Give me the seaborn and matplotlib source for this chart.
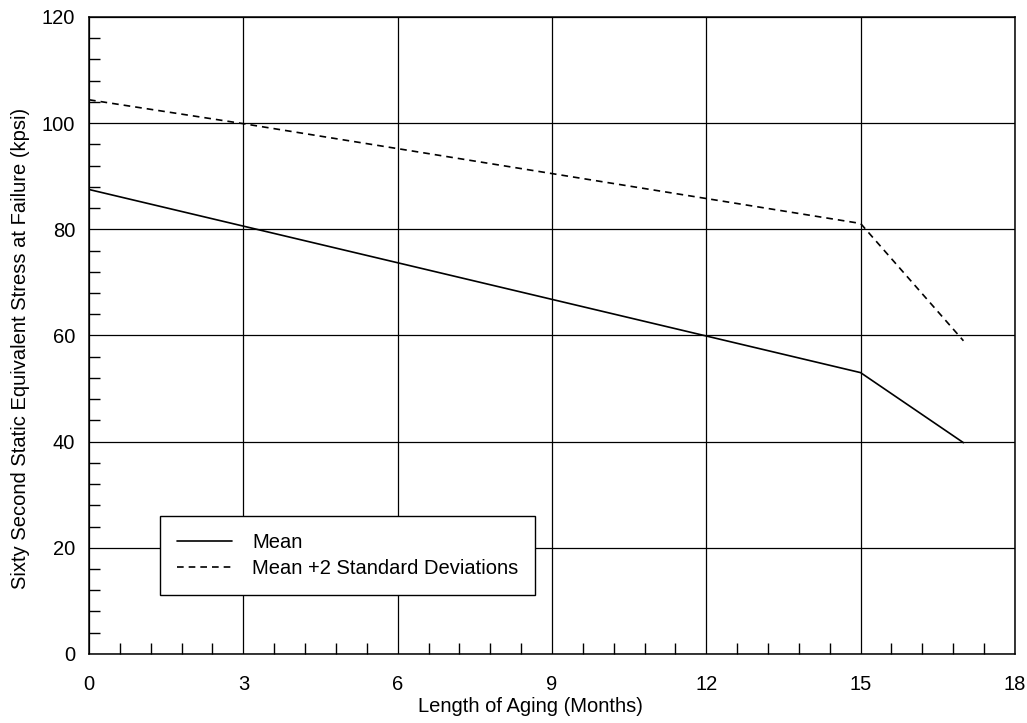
import numpy as np
import pandas as pd
import matplotlib
matplotlib.use('Agg')
import matplotlib.pyplot as plt
import seaborn as sns
from matplotlib.ticker import MultipleLocator

# Veri
months = [0, 3, 6, 9, 12, 15, 17]
mean_stress = [87.5, 80.6, 73.7, 66.8, 59.9, 53.0, 39.8]
upper_stress = [104.4, 99.9, 95.2, 90.5, 85.8, 81.1, 59.0]
series_names = ['Mean', 'Mean +2 Standard Deviations']

df = pd.DataFrame({
    'months': months * 2,
    'stress': mean_stress + upper_stress,
    'series': [series_names[0]] * len(months) + [series_names[1]] * len(months),
})

sns.set_style('white')
plt.rcParams['font.family'] = ['Liberation Sans', 'DejaVu Sans']
plt.rcParams['text.color'] = 'black'
plt.rcParams['axes.labelcolor'] = 'black'
plt.rcParams['xtick.color'] = 'black'
plt.rcParams['ytick.color'] = 'black'

fig = plt.figure(figsize=(10.27, 7.23), dpi=100)
ax = fig.add_axes([0.0867, 0.0955, 0.9015, 0.881])

sns.lineplot(data=df, x='months', y='stress', style='series', color='black',
             dashes={series_names[0]: '', series_names[1]: (4, 3)},
             linewidth=1.2, ax=ax)

ax.set_xlim(0, 18)
ax.set_ylim(0, 120)
ax.xaxis.set_major_locator(MultipleLocator(3))
ax.yaxis.set_major_locator(MultipleLocator(20))
ax.xaxis.set_minor_locator(MultipleLocator(0.6))
ax.yaxis.set_minor_locator(MultipleLocator(4))
ax.grid(True, which='major', color='black', linewidth=0.9)
ax.tick_params(which='major', length=0, labelsize=14.5)
ax.tick_params(axis='x', which='major', pad=15)
ax.tick_params(axis='y', which='major', pad=10)
ax.tick_params(which='minor', direction='in', length=8, width=1, color='black',
               bottom=True, left=True)
for s in ax.spines.values():
    s.set_color('black')
    s.set_linewidth(1.1)

ax.set_xlabel('Length of Aging (Months)', fontsize=14.5)
ax.set_ylabel('Sixty Second Static Equivalent Stress at Failure (kpsi)', fontsize=14.5)
ax.xaxis.set_label_coords(0.477, -0.067)
ax.yaxis.set_label_coords(-0.064, 0.479)

leg = ax.legend(loc='lower left', bbox_to_anchor=(0.077, 0.092), fontsize=14.5,
                frameon=True, fancybox=False, edgecolor='black', framealpha=1,
                handlelength=2.7, handletextpad=1.0, borderpad=0.85,
                labelspacing=0.35, borderaxespad=0)
leg.get_frame().set_linewidth(1.0)

fig.savefig('out.png', dpi=100)
